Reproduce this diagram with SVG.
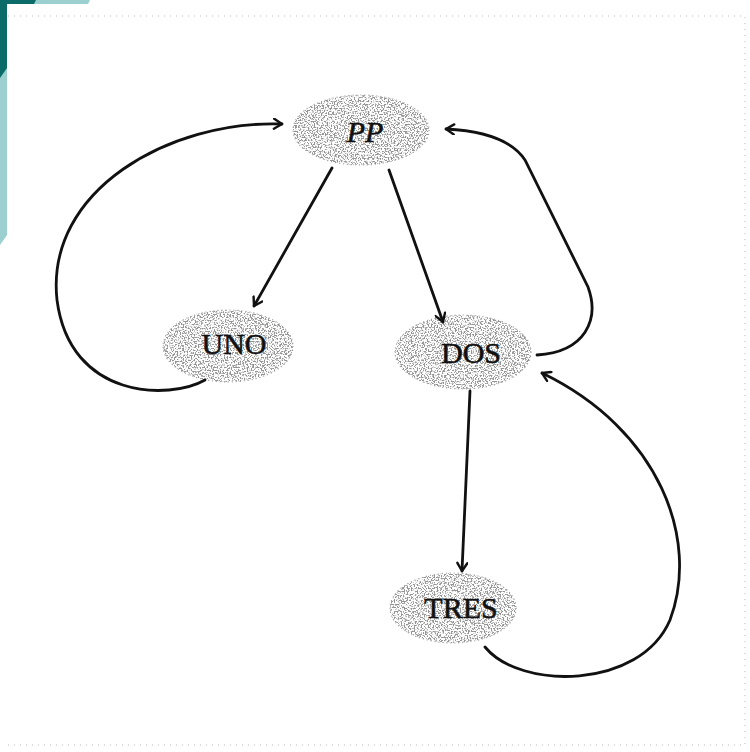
<svg xmlns="http://www.w3.org/2000/svg" width="750" height="752" viewBox="0 0 750 752">
<defs>
<style>
.lbl{font-family:"Liberation Serif","Times New Roman",serif;font-size:30px;fill:#111;stroke:#111;stroke-width:0.6;text-anchor:middle}
.conn path{fill:none;stroke:#111;stroke-width:2.8;stroke-linecap:round}
.blob{fill:#777}
.rim{fill:none;stroke:#999;stroke-width:1.2;stroke-dasharray:1 3}
.ghost{fill:none;stroke:#bbb;stroke-width:1;stroke-dasharray:1 5}
</style>
<filter id="stip" x="0" y="0" width="1" height="1">
<feTurbulence type="fractalNoise" baseFrequency="0.7" numOctaves="1" seed="7" result="n"/>
<feColorMatrix in="n" type="matrix" values="0 0 0 0 0.3  0 0 0 0 0.3  0 0 0 0 0.3  9 0 0 0 -4.4" result="d"/>
<feComposite in="d" in2="SourceGraphic" operator="in"/>
</filter>
<marker id="ah" viewBox="0 0 12 12" refX="10" refY="6" markerWidth="12" markerHeight="12" markerUnits="userSpaceOnUse" orient="auto">
<path d="M2 1 L10 6 L2 11" fill="none" stroke="#111" stroke-width="2.4" stroke-linecap="round" stroke-linejoin="round"/>
</marker>
</defs>
<rect width="750" height="752" fill="#fff"/>
<g id="corner">
<polygon points="0,0 90,0 88,4 7,4 7,235 0,245" fill="#9ccfcf"/>
<polygon points="0,0 36,0 34,4 7,4 7,68 0,78" fill="#0b6b68"/>
</g>
<g id="frame">
<path class="ghost" d="M8 16 H745 V745 H8"/>
</g>
<g id="PP">
<ellipse class="blob" cx="361" cy="130" rx="68" ry="35" filter="url(#stip)"/>
<ellipse class="rim" cx="361" cy="130" rx="68" ry="35"/>
<text class="lbl" x="365" y="142" font-style="italic">PP</text>
</g>
<g id="UNO">
<ellipse class="blob" cx="228" cy="346" rx="65" ry="36" filter="url(#stip)"/>
<ellipse class="rim" cx="228" cy="346" rx="65" ry="36"/>
<text class="lbl" x="234" y="354">UNO</text>
</g>
<g id="DOS">
<ellipse class="blob" cx="463" cy="352" rx="68" ry="37" filter="url(#stip)"/>
<ellipse class="rim" cx="463" cy="352" rx="68" ry="37"/>
<text class="lbl" x="471" y="363">DOS</text>
</g>
<g id="TRES">
<ellipse class="blob" cx="453" cy="608" rx="63" ry="35" filter="url(#stip)"/>
<ellipse class="rim" cx="453" cy="608" rx="63" ry="35"/>
<text class="lbl" x="461" y="618">TRES</text>
</g>
<g class="conn" id="connectors">
<path d="M332 168 L254 306" marker-end="url(#ah)"/>
<path d="M389 170 L443 322" marker-end="url(#ah)"/>
<path d="M470 391 L462 571" marker-end="url(#ah)"/>
<path d="M205 380 C170 400 70 400 57 300 C45 190 170 120 282 124" marker-end="url(#ah)"/>
<path d="M537 355 C585 352 600 320 588 287 L525 160 C512 140 485 131 446 129" marker-end="url(#ah)"/>
<path d="M485 647 C520 690 640 690 670 620 C700 540 660 430 542 373" marker-end="url(#ah)"/>
</g>
</svg>
